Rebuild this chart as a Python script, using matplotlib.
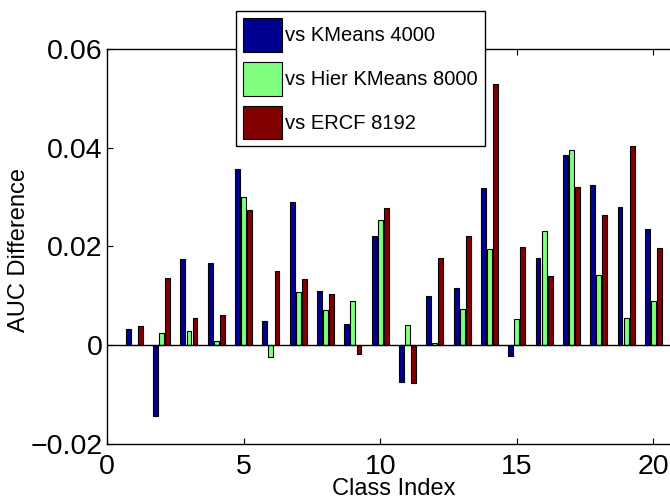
import matplotlib
matplotlib.use("Agg")
import matplotlib.pyplot as plt
import numpy as np

# ---------------------------------------------------------------------------
# Data
# ---------------------------------------------------------------------------
classes = np.arange(1, 21)

vs_kmeans_4000 = [0.0032, -0.0143, 0.0175, 0.0167, 0.0357, 0.0049, 0.0290,
                  0.0110, 0.0044, 0.0221, -0.0075, 0.0100, 0.0115, 0.0319,
                  -0.0021, 0.0176, 0.0385, 0.0325, 0.0280, 0.0236]
vs_hier_kmeans_8000 = [0.0001, 0.0024, 0.0029, 0.0009, 0.0300, -0.0024, 0.0108,
                       0.0072, 0.0089, 0.0254, 0.0042, 0.0005, 0.0074, 0.0194,
                       0.0054, 0.0232, 0.0395, 0.0143, 0.0056, 0.0090]
vs_ercf_8192 = [0.0038, 0.0137, 0.0056, 0.0061, 0.0273, 0.0150, 0.0135,
                0.0104, -0.0017, 0.0277, -0.0077, 0.0176, 0.0222, 0.0529,
                0.0199, 0.0140, 0.0321, 0.0263, 0.0404, 0.0197]

series_labels = ["vs KMeans 4000", "vs Hier KMeans 8000", "vs ERCF 8192"]
series_colors = ["#00008f", "#80ff80", "#800000"]

yticks = [-0.02, 0, 0.02, 0.04, 0.06]
ytick_labels = ["\u22120.02", "0", "0.02", "0.04", "0.06"]
xticks = [0, 5, 10, 15, 20]

# ---------------------------------------------------------------------------
# Plot
# ---------------------------------------------------------------------------
plt.rcParams["font.family"] = ["Liberation Sans", "DejaVu Sans"]

fig = plt.figure(figsize=(6.7, 5.01), dpi=100)
ax = fig.add_axes([0.1597, 0.1138, 0.8563, 0.7884])

group_w = 0.222
bar_w = 0.8 * group_w
all_series = [vs_kmeans_4000, vs_hier_kmeans_8000, vs_ercf_8192]
for i, (vals, lab, col) in enumerate(zip(all_series, series_labels, series_colors)):
    ax.bar(classes + (i - 1) * group_w, vals, width=bar_w, color=col,
           edgecolor="k", linewidth=0.8, label=lab, zorder=2)

# MATLAB-style bar baseline
ax.axhline(0, color="k", linewidth=1.0, zorder=3)

ax.set_xlim(0, 21)
ax.set_ylim(-0.02, 0.06)
ax.set_xticks(xticks)
ax.set_yticks(yticks)
ax.set_yticklabels(ytick_labels)

ax.tick_params(which="both", direction="in", top=True, right=True,
               length=4, width=0.8, labelsize=20.5)
ax.tick_params(axis="x", pad=7)
ax.tick_params(axis="y", pad=3)
for sp in ax.spines.values():
    sp.set_linewidth(1.0)

ax.set_xlabel("Class Index", fontsize=17, labelpad=-1)
ax.set_ylabel("AUC Difference", fontsize=17)
ax.yaxis.set_label_coords(-0.134, 0.49)

leg = ax.legend(loc="upper left", bbox_to_anchor=(0.352, 0.978),
                bbox_transform=fig.transFigure, borderaxespad=0,
                fontsize=14.5, fancybox=False, framealpha=1,
                edgecolor="k", handlelength=1.95, handleheight=2.2,
                handletextpad=0.15, labelspacing=0.5, borderpad=0.35)
leg.get_frame().set_linewidth(1.0)
leg.set_zorder(5)

fig.savefig("out.png", dpi=100)
